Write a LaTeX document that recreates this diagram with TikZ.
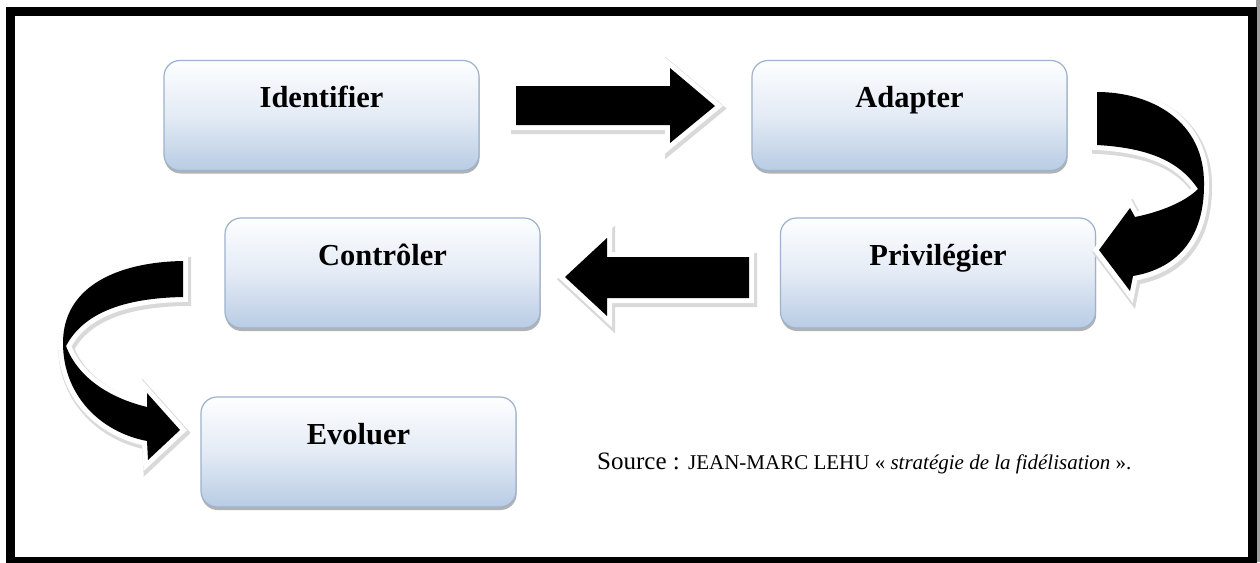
\documentclass[tikz,border=0pt]{standalone}
\usepackage{fontspec}
\setmainfont{Liberation Serif}
\usetikzlibrary{shadows}

\definecolor{boxtop}{RGB}{253,254,255}
\definecolor{boxmid}{RGB}{228,235,245}
\definecolor{boxbot}{RGB}{184,204,228}
\definecolor{boxline}{RGB}{158,178,204}

\tikzset{
  stage/.style={rectangle, rounded corners=16pt,
    minimum width=315pt, minimum height=110pt, inner sep=0pt,
    draw=boxline, line width=1.2pt,
    top color=boxtop, bottom color=boxbot, middle color=boxmid,
    drop shadow={shadow xshift=0.6pt, shadow yshift=-3pt, fill=black!55, opacity=0.55},
    font=\fontsize{30.5}{36}\selectfont\bfseries,
    text height=21pt, text depth=37pt},
  blockarrow/.style={fill=black, line join=miter,
    preaction={draw=black!15, line width=13pt,
      transform canvas={shift={(1.5pt,-2.5pt)}}},
    preaction={draw=white, line width=10pt}},
  frameline/.style={draw=black, line width=9pt}
}

\begin{document}
\begin{tikzpicture}[x=1pt, y=-1pt]
  % page and outer frame
  \clip (0,0) rectangle (1260,562);
  \fill[white] (0,0) rectangle (1260,562);
  \fill[black!38] (1256,0) rectangle (1260,562);
  \draw[frameline] (10,11) rectangle (1252.5,561.5);

  % process stages
  \node[stage] (ident) at (321.5,115.5) {Identifier};
  \node[stage] (adapt) at (909.5,115.5) {Adapter};
  \node[stage] (privi) at (938,273) {Privilégier};
  \node[stage] (contr) at (382.5,273) {Contrôler};
  \node[stage] (evol)  at (358.5,452) {Evoluer};

  % straight block arrows
  \path[blockarrow] (516,86) -- (670,86) -- (670,68) -- (715,106)
    -- (670,143) -- (670,125) -- (516,125) -- cycle;
  \path[blockarrow] (749,257) -- (607,257) -- (607,238) -- (565,277)
    -- (607,316) -- (607,298) -- (749,298) -- cycle;

  % curved block arrow on the right (Adapter to Privilégier)
  \path[blockarrow] (1097,92) .. controls (1150,92) and (1205,120) .. (1204,185)
    .. controls (1204,235) and (1180,268) .. (1133,276)
    -- (1130,291) -- (1099,250) -- (1130,208) -- (1135,217)
    .. controls (1160,212) and (1185,202) .. (1198,189)
    .. controls (1180,162) and (1150,148) .. (1097,145) -- cycle;

  % curved block arrow on the left (Contrôler to Evoluer)
  \path[blockarrow] (183,261) .. controls (120,262) and (63,285) .. (63,343)
    .. controls (63,395) and (100,432) .. (147,441)
    -- (148,460) -- (180,430) -- (147,393) -- (147,407)
    .. controls (110,398) and (78,378) .. (66,346)
    .. controls (85,310) and (130,298) .. (183,297) -- cycle;

  % source line
  \node[anchor=base west, inner sep=0pt] (src) at (597,469)
    {\fontsize{25}{28}\selectfont Source : \fontsize{21}{24}\selectfont JEAN-MARC LEHU « \textit{stratégie de la fidélisation} ».};
\end{tikzpicture}
\end{document}
